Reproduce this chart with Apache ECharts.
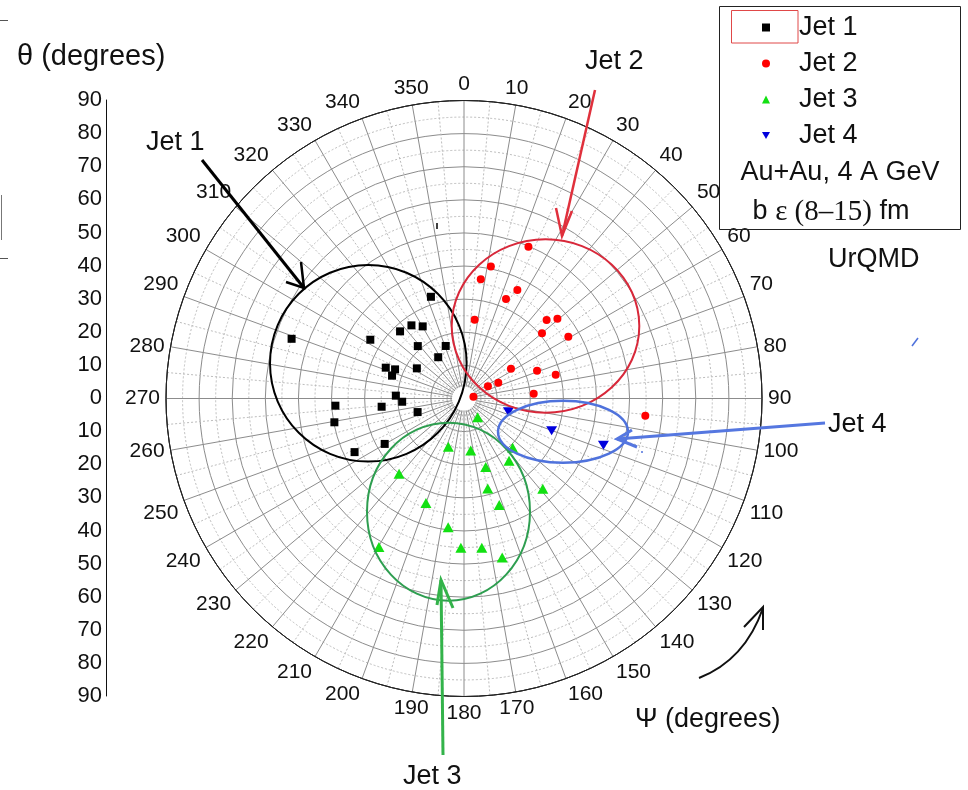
<!DOCTYPE html>
<html>
<head>
<meta charset="utf-8">
<title>Jets in theta-psi polar plot</title>
<script src="https://cdn.jsdelivr.net/npm/echarts@6/dist/echarts.min.js"></script>
<style>
  html, body { margin: 0; padding: 0; background: #fff; }
  #main { width: 968px; height: 790px; }
</style>
</head>
<body>
<div id="main"></div>
<script>
// each point is [theta, psi] in degrees (theta = radius, psi = angle)
var jet1 = [
  [32.3, 342.0], [27.2, 324.3], [25.1, 330.2], [28.0, 316.4], [55.1, 289.1],
  [33.4, 302.1], [21.1, 318.6], [16.8, 340.8], [14.7, 328.0], [25.4, 291.5],
  [22.6, 292.9], [22.8, 287.6], [16.9, 302.6], [20.6, 272.4], [18.7, 267.0],
  [38.9, 266.8], [25.0, 264.3], [14.6, 253.7], [39.8, 259.6], [27.6, 240.2],
  [36.8, 243.9]
];
var jet2 = [
  [49.8, 23.0], [40.7, 11.5], [36.4, 8.0], [36.5, 26.2], [32.6, 22.9],
  [24.0, 7.7], [34.4, 46.5], [37.1, 49.5], [30.7, 50.1], [36.6, 59.4],
  [16.8, 57.6], [23.6, 69.2], [28.6, 75.5], [11.4, 65.3], [8.1, 63.1],
  [21.1, 86.1], [2.9, 79.0], [55.0, 95.4]
];
var jet3 = [
  [7.0, 143.9], [15.3, 198.0], [15.8, 172.6], [20.9, 135.3], [23.2, 144.1],
  [21.7, 162.4], [30.0, 220.8], [36.2, 138.9], [28.1, 165.2], [33.6, 200.0],
  [33.9, 161.7], [39.2, 187.0], [51.7, 209.8], [45.1, 181.2], [45.4, 173.2],
  [49.4, 166.5]
];
var jet4 = [
  [14.0, 106.6], [28.2, 110.2], [44.4, 108.5]
];
// left-hand theta scale, top to bottom
var thetaLabels = ['90', '80', '70', '60', '50', '40', '30', '20', '10', '0',
  '10', '20', '30', '40', '50', '60', '70', '80', '90'];
var jetNames = ['Jet 1', 'Jet 2', 'Jet 3', 'Jet 4'];

var FONT = 'Liberation Sans, Arial, sans-serif';
var downTri = 'path://M0,0L10,0L5,9Z';

var chart = echarts.init(document.getElementById('main'));

var option = {
  animation: false,
  backgroundColor: '#fff',
  legend: {
    orient: 'vertical',
    left: 757,
    top: 9,
    itemWidth: 8,
    itemHeight: 8,
    itemGap: 9,
    selectedMode: false,
    textStyle: { fontSize: 27, color: '#111', fontFamily: FONT, padding: [0, 0, 0, 24] },
    data: [
      { name: jetNames[0], icon: 'rect' },
      { name: jetNames[1], icon: 'circle' },
      { name: jetNames[2], icon: 'triangle' },
      { name: jetNames[3], icon: downTri }
    ]
  },
  grid: { left: 106, top: 100, width: 1, height: 596 },
  xAxis: { type: 'value', show: false },
  yAxis: {
    type: 'category',
    data: thetaLabels,
    boundaryGap: false,
    axisLine: { lineStyle: { color: '#111', width: 1 } },
    axisTick: { show: false },
    splitLine: { show: false },
    axisLabel: { interval: 0, fontSize: 22, color: '#111', margin: 4, fontFamily: FONT }
  },
  polar: { center: [464, 398.5], radius: 298 },
  angleAxis: {
    type: 'value',
    min: 0,
    max: 360,
    interval: 10,
    startAngle: 90,
    clockwise: true,
    axisLine: { lineStyle: { color: '#222', width: 1 } },
    axisTick: { show: false },
    axisLabel: {
      fontSize: 21, color: '#111', margin: 6, fontFamily: FONT,
      formatter: function (v) { return v === 360 ? '' : String(v); }
    },
    splitLine: { show: true, lineStyle: { color: '#8c8c8c', width: 1 } },
    minorTick: { show: false, splitNumber: 2 },
    minorSplitLine: { show: true, lineStyle: { color: '#bdbdbd', width: 1, type: [2, 2] } }
  },
  radiusAxis: {
    type: 'value',
    min: 0,
    max: 90,
    interval: 10,
    axisLine: { show: false },
    axisTick: { show: false },
    axisLabel: { show: false },
    splitLine: { show: true, lineStyle: { color: '#8c8c8c', width: 1 } },
    minorTick: { show: false, splitNumber: 2 },
    minorSplitLine: { show: true, lineStyle: { color: '#bdbdbd', width: 1, type: [2, 2] } }
  },
  series: [
    { name: jetNames[0], type: 'scatter', coordinateSystem: 'polar', data: jet1,
      symbol: 'rect', symbolSize: 8, itemStyle: { color: '#000', opacity: 1 } },
    { name: jetNames[1], type: 'scatter', coordinateSystem: 'polar', data: jet2,
      symbol: 'circle', symbolSize: 8, itemStyle: { color: '#ff0000', opacity: 1 } },
    { name: jetNames[2], type: 'scatter', coordinateSystem: 'polar', data: jet3,
      symbol: 'triangle', symbolSize: [11, 10], itemStyle: { color: '#12e012', opacity: 1 } },
    { name: jetNames[3], type: 'scatter', coordinateSystem: 'polar', data: jet4,
      symbol: downTri, symbolSize: [11, 9], itemStyle: { color: '#0000dd', opacity: 1 } }
  ],
  graphic: [
    // white hub in the middle of the polar grid
    { type: 'circle', z: 1, shape: { cx: 464, cy: 398.5, r: 12 }, style: { fill: '#fff' } },
    { type: 'circle', z: 1, shape: { cx: 464, cy: 398.5, r: 298 }, style: { fill: 'none', stroke: '#222', lineWidth: 1 } },

    // hand drawn jet outlines
    { type: 'ellipse', z: 10, shape: { cx: 368.3, cy: 363.3, rx: 98.3, ry: 98.3 },
      style: { fill: 'none', stroke: '#000', lineWidth: 2 } },
    { type: 'ellipse', z: 10, shape: { cx: 545.5, cy: 326, rx: 93.8, ry: 86.7 },
      style: { fill: 'none', stroke: '#d8283a', lineWidth: 2 } },
    { type: 'ellipse', z: 10, shape: { cx: 448.5, cy: 511.7, rx: 81.5, ry: 89 },
      style: { fill: 'none', stroke: '#2e9e50', lineWidth: 2 } },
    { type: 'ellipse', z: 10, shape: { cx: 563, cy: 431.7, rx: 65, ry: 31 },
      style: { fill: 'none', stroke: '#4f72dc', lineWidth: 2.5 } },

    // arrows
    { type: 'polyline', z: 10, shape: { points: [[202, 160], [304, 288]] }, style: { stroke: '#000', lineWidth: 3 } },
    { type: 'polyline', z: 10, shape: { points: [[301, 262], [304, 288], [286, 282]] }, style: { stroke: '#000', lineWidth: 2.5, fill: 'none' } },
    { type: 'polyline', z: 10, shape: { points: [[595, 90], [562, 236]] }, style: { stroke: '#e0303c', lineWidth: 2.5 } },
    { type: 'polyline', z: 10, shape: { points: [[556, 208], [562, 236], [572, 211]] }, style: { stroke: '#e0303c', lineWidth: 2.5, fill: 'none' } },
    { type: 'polyline', z: 10, shape: { points: [[443, 755], [441, 580]] }, style: { stroke: '#33b34a', lineWidth: 3 } },
    { type: 'polyline', z: 10, shape: { points: [[437, 605], [441, 580], [453, 608]] }, style: { stroke: '#33b34a', lineWidth: 3, fill: 'none' } },
    { type: 'polyline', z: 10, shape: { points: [[825, 423], [617, 439]] }, style: { stroke: '#5577e0', lineWidth: 3 } },
    { type: 'polyline', z: 10, shape: { points: [[632, 430], [617, 439], [637, 447]] }, style: { stroke: '#5577e0', lineWidth: 3, fill: 'none' } },
    { type: 'bezierCurve', z: 10, shape: { x1: 699, y1: 678, cpx1: 745, cpy1: 660, x2: 763, y2: 608 },
      style: { stroke: '#111', lineWidth: 2, fill: 'none' } },
    { type: 'polyline', z: 10, shape: { points: [[744, 627], [763, 607], [763, 630]] }, style: { stroke: '#111', lineWidth: 2, fill: 'none' } },

    // labels
    { type: 'text', z: 10, style: { text: 'θ (degrees)', x: 17, y: 57, fontSize: 29, fontFamily: FONT, fill: '#111', verticalAlign: 'middle' } },
    { type: 'text', z: 10, style: { text: 'Jet 1', x: 146, y: 143, fontSize: 27, fontFamily: FONT, fill: '#111', verticalAlign: 'middle' } },
    { type: 'text', z: 10, style: { text: 'Jet 2', x: 585, y: 62, fontSize: 27, fontFamily: FONT, fill: '#111', verticalAlign: 'middle' } },
    { type: 'text', z: 10, style: { text: 'Jet 3', x: 403, y: 777, fontSize: 27, fontFamily: FONT, fill: '#111', verticalAlign: 'middle' } },
    { type: 'text', z: 10, style: { text: 'Jet 4', x: 828, y: 425, fontSize: 27, fontFamily: FONT, fill: '#111', verticalAlign: 'middle' } },
    { type: 'text', z: 10, style: { text: 'Ψ (degrees)', x: 635, y: 720, fontSize: 27, fontFamily: FONT, fill: '#111', verticalAlign: 'middle' } },
    { type: 'text', z: 10, style: { text: 'UrQMD', x: 828, y: 260, fontSize: 27, fontFamily: FONT, fill: '#111', verticalAlign: 'middle' } },

    // legend frame and extra lines
    { type: 'rect', z: 10, shape: { x: 719.5, y: 6.5, width: 241, height: 223 }, style: { fill: 'none', stroke: '#222', lineWidth: 1 } },
    { type: 'rect', z: 10, shape: { x: 731.5, y: 10.5, width: 66.5, height: 32.5 }, style: { fill: 'none', stroke: '#e04848', lineWidth: 1 } },
    { type: 'text', z: 10, style: { text: 'Au+Au, 4 A GeV', x: 840, y: 173, fontSize: 27, fontFamily: FONT, fill: '#111', align: 'center', verticalAlign: 'middle' } },
    { type: 'text', z: 10, style: {
        text: '{a|b }{s|ε (8–15)}{a| fm}', x: 831, y: 212, align: 'center', verticalAlign: 'middle',
        rich: {
          a: { fontSize: 27, fontFamily: FONT, fill: '#111' },
          s: { fontSize: 29, fontFamily: 'Liberation Serif, Times New Roman, serif', fill: '#111' }
        } } },

    // small stray marks of the scanned figure
    { type: 'line', z: 10, shape: { x1: 0, y1: 20.5, x2: 8, y2: 20.5 }, style: { stroke: '#555', lineWidth: 1 } },
    { type: 'line', z: 10, shape: { x1: 0, y1: 258.5, x2: 8, y2: 258.5 }, style: { stroke: '#555', lineWidth: 1 } },
    { type: 'line', z: 10, shape: { x1: 1.5, y1: 195, x2: 1.5, y2: 240 }, style: { stroke: '#777', lineWidth: 1 } },
    { type: 'line', z: 10, shape: { x1: 437, y1: 223, x2: 437, y2: 229 }, style: { stroke: '#000', lineWidth: 1.5 } },
    { type: 'line', z: 10, shape: { x1: 912, y1: 346, x2: 918, y2: 338 }, style: { stroke: '#4f72dc', lineWidth: 1.5 } },
    { type: 'circle', z: 10, shape: { cx: 642, cy: 452, r: 1 }, style: { fill: '#4f72dc' } }
  ]
};

chart.setOption(option);
</script>
</body>
</html>
